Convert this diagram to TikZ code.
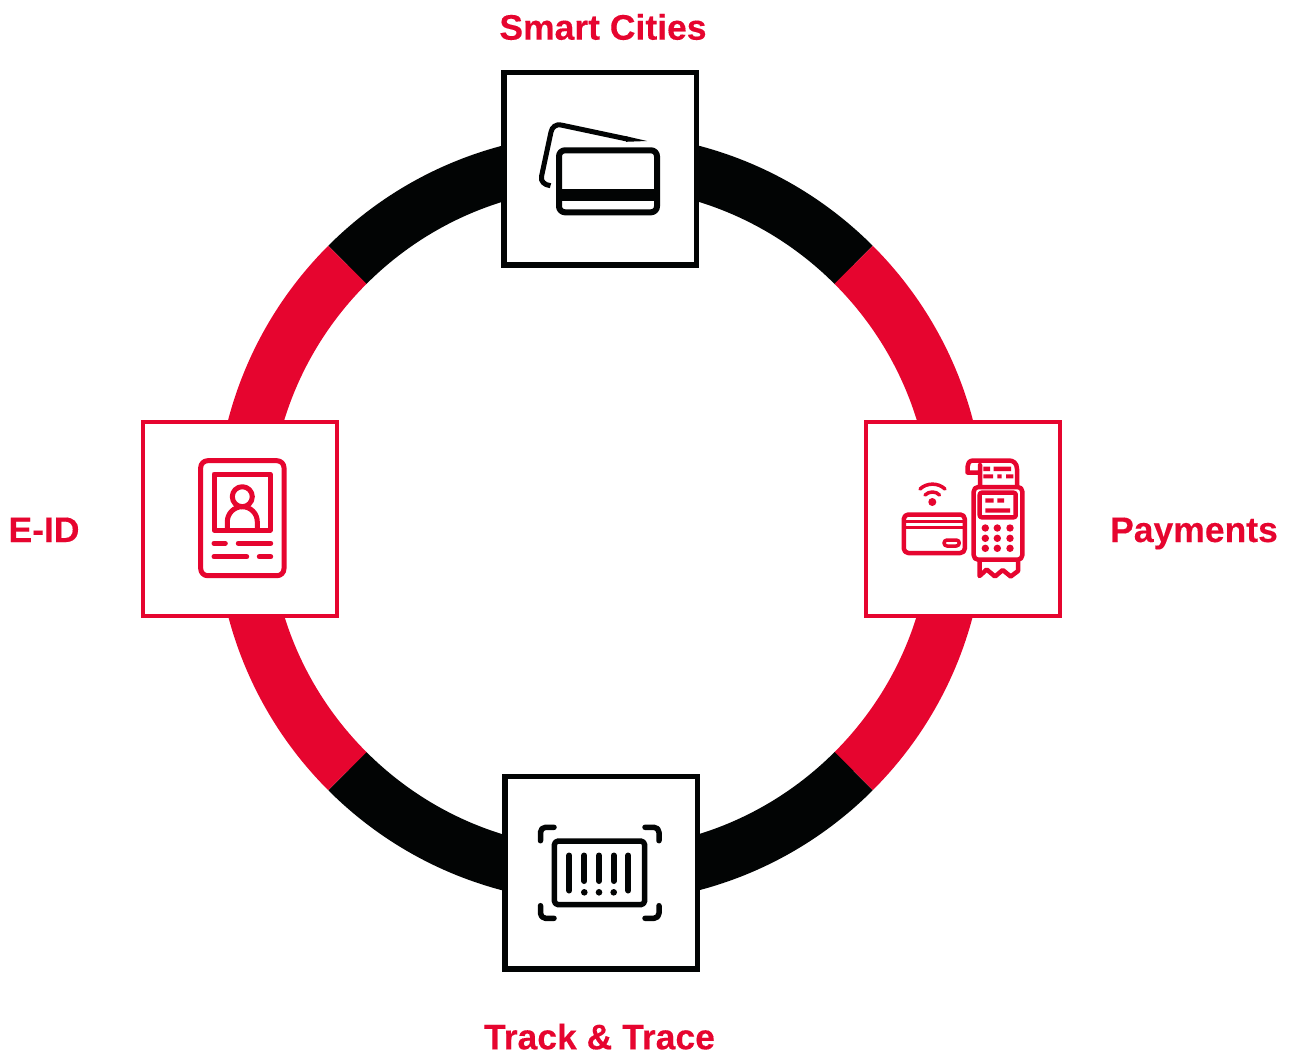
\documentclass[tikz,border=0pt]{standalone}
\usepackage{fontspec}
\setmainfont[BoldFeatures={FakeBold=0.25}]{Liberation Sans}
\definecolor{brandred}{HTML}{E6052F}
\definecolor{brandblack}{HTML}{020404}
\tikzset{
  ringpart/.style={line width=54pt,line cap=butt},
  tile/.style={draw=#1,fill=white,line width=4pt,minimum size=194pt,inner sep=0pt},
  darktile/.style={draw=brandblack,fill=white,line width=5.5pt,minimum size=192.5pt,inner sep=0pt},
  lbl/.style={text=brandred,font=\fontsize{35.5}{40}\selectfont\bfseries,inner sep=0pt,anchor=base},
  ico/.style={draw=#1,line width=5pt,line cap=round,line join=round},
  thin ico/.style={draw=#1,line width=4.5pt,line cap=round,line join=round},
}
\begin{document}
\begin{tikzpicture}[x=1pt,y=-1pt]
\useasboundingbox (0,0) rectangle (1293,1052);
\coordinate (c) at (600.5,518);
% ring (screen angles, clockwise)
\draw[ringpart,brandblack] (c) ++(-135:358) arc[start angle=-135,end angle=-45,radius=358];
\draw[ringpart,brandred]   (c) ++(-45:358) arc[start angle=-45,end angle=45,radius=358];
\draw[ringpart,brandblack] (c) ++(45:358) arc[start angle=45,end angle=135,radius=358];
\draw[ringpart,brandred]   (c) ++(135:358) arc[start angle=135,end angle=225,radius=358];
% tiles
\node[darktile] (top) at (600,168.5) {};
\node[tile=brandred] (right) at (963,518.5) {};
\node[tile=brandred] (left) at (239.5,518.5) {};
\node[darktile] (bottom) at (601,872.5) {};
% labels
\node[lbl] (lblTop) at (603,39.7) {Smart Cities};
\node[lbl] (lblRight) at (1194,542) {Payments};
\node[lbl] (lblLeft) at (44,542) {E-ID};
\node[lbl] (lblBottom) at (599.5,1049.3) {Track \& Trace};
% --- cards icon
\draw[ico=brandblack,line width=6pt,rounded corners=6pt] (559,150.3) rectangle (657,212.3);
\fill[brandblack] (559,189.3) rectangle (657,201);
\draw[brandblack,line width=5pt,line cap=butt] (550.5,185.7) .. controls (544,185) and (540.5,181) .. (541.5,176.5) -- (551,132) .. controls (552,127) and (556,124) .. (561,125) -- (627,139);
\fill[brandblack] (626,136.2) -- (647,141) -- (626,141.8) -- cycle;
% --- payment icon
\draw[thin ico=brandred,rounded corners=4.5pt] (903.8,514.5) rectangle (964.8,553);
\draw[thin ico=brandred,rounded corners=4.5pt] (973.7,487) rectangle (1022.3,559.7);
\draw[thin ico=brandred,rounded corners=2pt] (979.7,492.7) rectangle (1015.7,517.3);
\draw[thin ico=brandred,line width=3.5pt,rounded corners=3pt] (944,540) rectangle (959.3,546);
\draw[thin ico=brandred,line width=3pt,line cap=butt] (904,521.7) -- (964.5,521.7) (904,527) -- (964.5,527);
\fill[brandred] (932.3,502) circle[radius=4];
\draw[thin ico=brandred,line width=3.5pt] (925,495) .. controls (929,491) and (936,491) .. (939.5,495);
\draw[thin ico=brandred,line width=3.5pt] (920,489) .. controls (927,482.5) and (938,482.5) .. (945,489);
\foreach \kx in {985.3,997.3,1010}{\foreach \ky in {528,538.3,548.3}{
  \fill[brandred] (\kx,\ky) circle[radius=3.7];}}
\fill[brandred] (985.3,498.3) rectangle (993.7,502.7) (997.3,498.3) rectangle (1004,502.7) (985.3,508.3) rectangle (1010,512.7);
% receipt
\draw[thin ico=brandred] (980,485) -- (980,465) (1017,485) -- (1017,469) .. controls (1017,463) and (1013,460.5) .. (1009,460.5) -- (973,460.5) .. controls (969,460.5) and (967.5,464) .. (967.5,467) -- (967.5,472.5) -- (979,472.5);
\fill[brandred] (983.3,466.7) rectangle (990,471) (993.5,466.7) rectangle (1011,471) (983.3,474.3) rectangle (993,478.3) (997.3,474.3) rectangle (1001.7,478.3) (1006,474.3) rectangle (1013.3,478.3);
\draw[thin ico=brandred] (979.5,561) -- (979.5,576) -- (986.7,569.5) -- (995,576.5) -- (1002.7,570) -- (1010.7,576.5) -- (1018,571) -- (1018,561);
% --- ID icon
\draw[ico=brandred,rounded corners=7pt] (200.7,460.7) rectangle (284,575.7);
\draw[ico=brandred] (214,474) rectangle (270,530);
\draw[ico=brandred] (242.3,496.7) circle[radius=10];
\draw[ico=brandred] (227.3,530) -- (227.3,521.7) arc[start angle=180,end angle=360,radius=15] -- (257.3,530);
\draw[ico=brandred] (214,543.3) -- (225.3,543.3) (238.3,543.3) -- (270.7,543.3) (214,556.7) -- (246.7,556.7) (259.3,556.7) -- (270.7,556.7);
% --- barcode icon
\draw[ico=brandblack,line width=5.5pt,rounded corners=4pt] (554.3,841) rectangle (644.7,904.7);
\draw[ico=brandblack,line width=6pt] (569.3,855.5) -- (569.3,890.5) (584.3,855.5) -- (584.3,881) (599,855.5) -- (599,881) (613.7,855.5) -- (613.7,881) (628.3,855.5) -- (628.3,890.5);
\fill[brandblack] (584.3,892.3) circle[radius=3.3] (599,892.3) circle[radius=3.3] (613.7,892.3) circle[radius=3.3];
\draw[ico=brandblack,line width=5.5pt,rounded corners=5pt] (554,827.3) -- (540.5,827.3) -- (540.5,840.7);
\draw[ico=brandblack,line width=5.5pt,rounded corners=5pt] (645,827.3) -- (659,827.3) -- (659,840.7);
\draw[ico=brandblack,line width=5.5pt,rounded corners=5pt] (540.5,905.7) -- (540.5,918.3) -- (554,918.3);
\draw[ico=brandblack,line width=5.5pt,rounded corners=5pt] (659,905.7) -- (659,918.3) -- (645,918.3);
\end{tikzpicture}
\end{document}
